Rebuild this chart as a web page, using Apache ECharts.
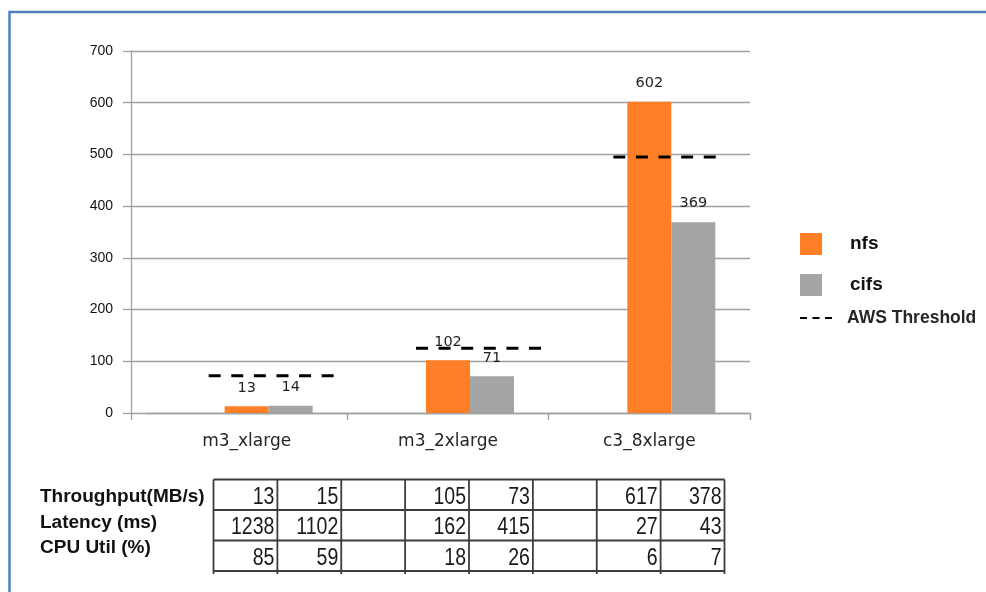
<!DOCTYPE html>
<html>
<head>
<meta charset="utf-8">
<title>NFS vs CIFS throughput</title>
<script src="https://cdn.jsdelivr.net/npm/echarts@6/dist/echarts.min.js"></script>
<style>
  html, body { margin: 0; padding: 0; background: #ffffff; }
  #chart { width: 986px; height: 592px; }
</style>
</head>
<body>
<div id="chart"></div>
<script>
// Instance types on the category axis
const categories = ['m3_xlarge', 'm3_2xlarge', 'c3_8xlarge'];

// Throughput bars (MB/s)
const nfsValues = [13, 102, 602];
const cifsValues = [14, 71, 369];

// AWS published throughput threshold per instance type
const awsThreshold = [72, 125, 495];

// Value axis
const yMin = 0;
const yMax = 700;
const yInterval = 100;

// Summary table below the chart
const tableRowLabels = ['Throughput(MB/s)', 'Latency (ms)', 'CPU Util (%)'];
const throughputNfs = [13, 105, 617];
const throughputCifs = [15, 73, 378];
const latencyNfs = [1238, 162, 27];
const latencyCifs = [1102, 415, 43];
const cpuNfs = [85, 18, 6];
const cpuCifs = [59, 26, 7];

// ---- layout / style ----
const ORANGE = '#FF7F27';
const GREY = '#A5A5A5';
const GRID_LINE = '#A0A0A0';
const TICK_FONT = 'DejaVu Sans';
const BAR_W = 44;
// horizontal extent (px) of each threshold segment relative to the category centre
const thresholdSpans = [[-38, 87], [-32, 93], [-36, 67]];

const chart = echarts.init(document.getElementById('chart'), null, { renderer: 'canvas' });

// table cells: nfs, cifs, then an empty spacer column between instance groups
function buildRow(nfs, cifs) {
  const cells = [];
  nfs.forEach((v, i) => {
    cells.push(v, cifs[i]);
    if (i < nfs.length - 1) cells.push(null);
  });
  return cells;
}
const tableRows = [
  buildRow(throughputNfs, throughputCifs),
  buildRow(latencyNfs, latencyCifs),
  buildRow(cpuNfs, cpuCifs)
];

const tbl = { left: 213.5, top: 479.5, colW: 63.875, rowH: 30.5 };
const graphics = [];

// outer frame
graphics.push({
  type: 'polyline',
  shape: { points: [[9.5, 592], [9.5, 12], [986, 12]] },
  style: { stroke: '#4F81BD', lineWidth: 2.5, fill: null },
  silent: true
});

// table grid
const nCols = tableRows[0].length;
const nRows = tableRows.length;
const tblRight = tbl.left + nCols * tbl.colW;
const tblBottom = tbl.top + nRows * tbl.rowH;
for (let r = 0; r <= nRows; r++) {
  const y = tbl.top + r * tbl.rowH;
  graphics.push({ type: 'line', shape: { x1: tbl.left, y1: y, x2: tblRight, y2: y },
    style: { stroke: '#3c3c3c', lineWidth: 1.8 }, silent: true });
}
for (let c = 0; c <= nCols; c++) {
  const x = tbl.left + c * tbl.colW;
  graphics.push({ type: 'line', shape: { x1: x, y1: tbl.top, x2: x, y2: tblBottom + 3 },
    style: { stroke: '#3c3c3c', lineWidth: 1.8 }, silent: true });
}
tableRows.forEach((row, r) => {
  row.forEach((v, c) => {
    if (v === null) return;
    graphics.push({
      type: 'text',
      x: tbl.left + (c + 1) * tbl.colW - 3,
      y: tbl.top + (r + 0.5) * tbl.rowH + 2.5,
      scaleX: 0.85,
      style: {
        text: String(v), align: 'right', verticalAlign: 'middle',
        font: "23px 'Liberation Sans', sans-serif",
        fill: '#1a1a1a'
      },
      silent: true
    });
  });
});
const rowLabelY = [497, 522.5, 548];
tableRowLabels.forEach((t, i) => {
  graphics.push({
    type: 'text', x: 40, y: rowLabelY[i],
    style: { text: t, align: 'left', verticalAlign: 'middle',
      font: "bold 19px 'Liberation Sans', sans-serif", fill: '#111111' },
    silent: true
  });
});

// legend entry for the dashed threshold
graphics.push({
  type: 'line', shape: { x1: 800, y1: 318, x2: 832, y2: 318 },
  style: { stroke: '#000000', lineWidth: 2, lineDash: [7, 5.5] }, silent: true
});
graphics.push({
  type: 'text', x: 847, y: 318,
  style: { text: 'AWS Threshold', align: 'left', verticalAlign: 'middle',
    font: "bold 17.5px 'Liberation Sans', sans-serif", fill: '#262626' },
  silent: true
});

const barLabel = {
  show: true, position: 'top', distance: 11,
  fontFamily: TICK_FONT, fontSize: 14.5, color: '#1f1f1f'
};

const option = {
  backgroundColor: '#ffffff',
  animation: false,
  grid: [
    { left: 131, top: 51, width: 619, height: 362 },
    { left: 146, top: 51, width: 604, height: 362 }
  ],
  legend: {
    orient: 'vertical', left: 795, top: 228,
    itemWidth: 22, itemHeight: 22, itemGap: 19,
    icon: 'rect',
    data: ['nfs', 'cifs'],
    textStyle: { fontFamily: 'Liberation Sans', fontWeight: 'bold', fontSize: 19,
      color: '#111111', padding: [0, 0, 0, 23] }
  },
  xAxis: [
    {
      gridIndex: 0, type: 'value', min: 0, max: 1, interval: 1,
      axisLine: { show: false },
      axisTick: { show: true, length: 7, lineStyle: { color: GRID_LINE, width: 1.3 } },
      axisLabel: { show: false }, splitLine: { show: false }
    },
    {
      gridIndex: 1, type: 'category', data: categories,
      axisLine: { show: true, lineStyle: { color: GRID_LINE, width: 1.3 } },
      axisTick: { show: true, length: 7, alignWithLabel: false,
        interval: (i) => i !== 0,
        lineStyle: { color: GRID_LINE, width: 1.3 } },
      axisLabel: { margin: 20, fontFamily: TICK_FONT, fontSize: 17, color: '#262626' }
    }
  ],
  yAxis: [
    {
      gridIndex: 0, type: 'value', min: yMin, max: yMax, interval: yInterval,
      axisLine: { show: true, lineStyle: { color: GRID_LINE, width: 1.3 } },
      axisTick: { show: true, length: 8, lineStyle: { color: GRID_LINE, width: 1.3 } },
      splitLine: { show: true, lineStyle: { color: GRID_LINE, width: 1.3 } },
      axisLabel: { margin: 18, fontFamily: 'Liberation Sans', fontSize: 14, color: '#111111' }
    },
    {
      gridIndex: 1, type: 'value', min: yMin, max: yMax, interval: yInterval, show: false
    }
  ],
  series: [
    {
      // empty leading slot so each pair sits right of the category centre
      name: 'spacer', type: 'bar', xAxisIndex: 1, yAxisIndex: 1,
      barWidth: BAR_W, barGap: '0%', data: categories.map(() => '-'), silent: true
    },
    {
      name: 'nfs', type: 'bar', xAxisIndex: 1, yAxisIndex: 1,
      barWidth: BAR_W, barGap: '0%', data: nfsValues,
      itemStyle: { color: ORANGE }, label: barLabel
    },
    {
      name: 'cifs', type: 'bar', xAxisIndex: 1, yAxisIndex: 1,
      barWidth: BAR_W, barGap: '0%', data: cifsValues,
      itemStyle: { color: GREY }, label: barLabel
    },
    {
      name: 'AWS Threshold', type: 'custom', xAxisIndex: 1, yAxisIndex: 1,
      data: awsThreshold.map((v, i) => [i, v]),
      z: 5, silent: true,
      renderItem: (params, api) => {
        const p = api.coord([api.value(0), api.value(1)]);
        const span = thresholdSpans[params.dataIndex];
        return {
          type: 'line',
          shape: { x1: p[0] + span[0], y1: p[1], x2: p[0] + span[1], y2: p[1] },
          style: { stroke: '#000000', lineWidth: 3, lineDash: [12, 10.6], fill: null }
        };
      }
    }
  ],
  graphic: graphics
};

chart.setOption(option);
</script>
</body>
</html>
